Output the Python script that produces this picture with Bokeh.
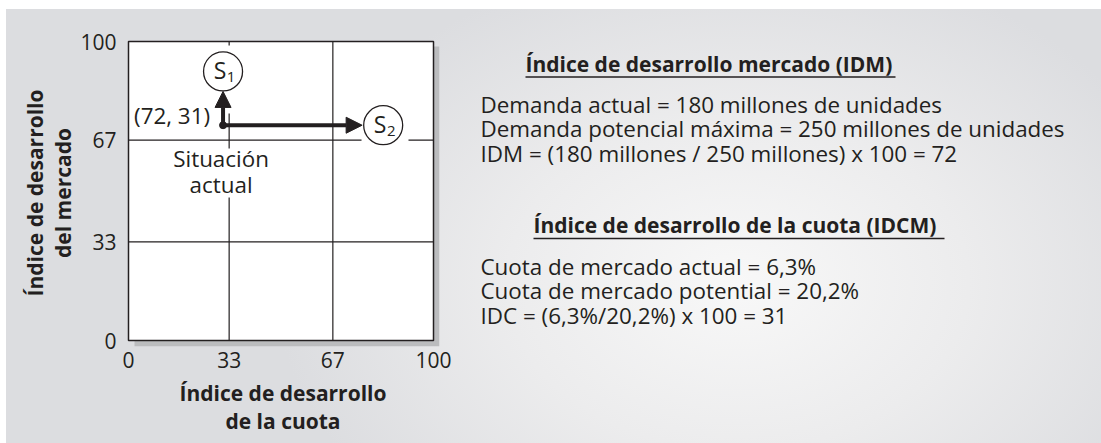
from bokeh.plotting import figure
from bokeh.models import Range1d, FixedTicker, Arrow, NormalHead
from bokeh.layouts import row
from bokeh.embed import file_html
from bokeh.resources import INLINE
from bokeh.core.properties import value

# ---------------- data ----------------
tick_values = [0, 33, 67, 100]
grid_values = [33, 67]
idc_actual = 31          # x: índice de desarrollo de la cuota
idm_actual = 72          # y: índice de desarrollo del mercado
point_label = "(72, 31)"
situacion_lines = ["Situación", "actual"]
s_labels = ["S", "S"]
s_subscripts = ["1", "2"]
s_x = [31, 83.5]
s_y = [90, 72]
s1_arrow_tip_y = 83.3
s2_arrow_tip_x = 76.6
x_axis_label = "Índice de desarrollo\nde la cuota"
y_axis_label = "Índice de desarrollo\ndel mercado"

idm_title = "Índice de desarrollo mercado (IDM)"
idm_lines = ["Demanda actual = 180 millones de unidades",
             "Demanda potencial máxima = 250 millones de unidades",
             "IDM = (180 millones / 250 millones) x 100 = 72"]
idc_title = "Índice de desarrollo de la cuota (IDCM)"
idc_lines = ["Cuota de mercado actual = 6,3%",
             "Cuota de mercado potential = 20,2%",
             "IDC = (6,3%/20,2%) x 100 = 31"]

# ---------------- style ----------------
FONT = "Open Sans"
INK = "#231f20"
BODY = "22.4px"
px_x = 100 / 305.0
px_y = 100 / 299.0

# left figure: frame spans page x 126..439, y 39..346
p = figure(width=468, height=443,
           x_range=Range1d(-2 * px_x, 100 + 6 * px_x),
           y_range=Range1d(-6 * px_y, 100 + 2 * px_y),
           output_backend="svg", toolbar_location=None,
           min_border_left=126, min_border_right=29,
           min_border_top=39, min_border_bottom=97)
p.border_fill_alpha = 0
p.background_fill_alpha = 0
p.outline_line_color = None
p.grid.visible = False

for ax in (p.xaxis[0], p.yaxis[0]):
    ax.ticker = FixedTicker(ticks=tick_values)
    ax.axis_line_color = None
    ax.major_tick_line_color = None
    ax.minor_tick_line_color = None
    ax.major_tick_out = 0
    ax.major_tick_in = 0
    ax.major_label_text_font = FONT
    ax.major_label_text_font_size = "21px"
    ax.major_label_text_color = INK
    ax.axis_label_text_font = FONT
    ax.axis_label_text_font_size = "21px"
    ax.axis_label_text_font_style = "bold"
    ax.axis_label_text_color = INK
    ax.axis_label_text_line_height = 1.0
p.xaxis.axis_label = x_axis_label
p.yaxis.axis_label = y_axis_label
p.xaxis.major_label_standoff = 5
p.yaxis.major_label_standoff = 10
p.xaxis.axis_label_standoff = 8
p.yaxis.axis_label_standoff = 0

lo, hi = tick_values[0], tick_values[-1]
# shadow + white box
p.quad(left=[lo + 6 * px_x], right=[hi + 6 * px_x], bottom=[lo - 6 * px_y], top=[hi - 5 * px_y],
       fill_color="#bbbcbe", line_color=None)
p.quad(left=[lo], right=[hi], bottom=[lo], top=[hi],
       fill_color="white", line_color=INK, line_width=1.5)
# grid lines
p.segment(x0=grid_values, x1=grid_values, y0=[lo] * 2, y1=[hi] * 2, line_color=INK, line_width=1.2)
p.segment(x0=[lo] * 2, x1=[hi] * 2, y0=grid_values, y1=grid_values, line_color=INK, line_width=1.2)
# white label backgrounds (S2 gap, S1 area, "Situación actual" area)
p.quad(left=[s2_arrow_tip_x - 0.2, s_x[0] - 7.5, idc_actual - 17],
       right=[s_x[1] + 8.3, s_x[0] + 7, idc_actual + 16],
       bottom=[grid_values[1] - 1.2, s_y[0] - 14.1, idm_actual - 24.2],
       top=[grid_values[1] + 1.2, s_y[0] + 8.7, idm_actual - 7.8],
       fill_color="white", line_color=None)

# arrows
p.add_layout(Arrow(x_start=idc_actual, y_start=idm_actual, x_end=idc_actual, y_end=s1_arrow_tip_y,
                   line_width=4, line_color=INK,
                   end=NormalHead(size=16, fill_color=INK, line_color=INK, line_width=1)))
p.add_layout(Arrow(x_start=idc_actual, y_start=idm_actual, x_end=s2_arrow_tip_x, y_end=idm_actual,
                   line_width=4, line_color=INK,
                   end=NormalHead(size=16, fill_color=INK, line_color=INK, line_width=1)))
p.scatter([idc_actual], [idm_actual], size=7, color=INK)

# circles S1, S2
p.scatter(s_x, s_y, size=39, marker="circle", fill_color="white", line_color=INK, line_width=1.3)
p.text(s_x, s_y, text=s_labels, text_align="center", text_baseline="middle",
       x_offset=-3, y_offset=-1, text_font=value(FONT), text_font_size="23px", text_color=INK)
p.text(s_x, s_y, text=s_subscripts, text_align="center", text_baseline="middle",
       x_offset=8, y_offset=6, text_font=value(FONT), text_font_size="15px", text_color=INK)

# point labels
p.text([idc_actual], [idm_actual], text=[point_label], text_align="right", text_baseline="alphabetic",
       x_offset=-13, y_offset=-9.5, text_font=value(FONT), text_font_size=BODY, text_color=INK)
p.text([idc_actual], [idm_actual], text=[situacion_lines[0]], text_align="center", text_baseline="alphabetic",
       x_offset=-2, y_offset=33.5, text_font=value(FONT), text_font_size=BODY, text_color=INK)
p.text([idc_actual], [idm_actual], text=[situacion_lines[1]], text_align="center", text_baseline="alphabetic",
       x_offset=-2, y_offset=59.5, text_font=value(FONT), text_font_size=BODY, text_color=INK)

# ---------------- right text panel ----------------
# its frame is aligned to the left frame (page y 39..346); coordinates = page pixels
p2 = figure(width=633, height=443, x_range=Range1d(468, 1101), y_range=Range1d(346, 39),
            output_backend="svg", toolbar_location=None, min_border=0)
p2.border_fill_alpha = 0
p2.background_fill_alpha = 0
p2.outline_line_color = None
p2.grid.visible = False
p2.axis.visible = False

title_x = [525, 533]
title_y = [63, 224]
underline_x1 = [895, 944]
underline_y = [76.5, 238]
p2.text(title_x, title_y, text=[idm_title, idc_title], text_baseline="alphabetic",
        text_font=value(FONT), text_font_size="21px", text_font_style="bold", text_color=INK)
p2.segment(x0=title_x, x1=underline_x1, y0=underline_y, y1=underline_y, line_color=INK, line_width=1.5)

body_x = 480
line_gap = 24.5
idm_y = [103.5 + i * line_gap for i in range(len(idm_lines))]
idc_y = [265.5 + i * line_gap for i in range(len(idc_lines))]
p2.text([body_x] * 3, idm_y, text=idm_lines, text_baseline="alphabetic",
        text_font=value(FONT), text_font_size=BODY, text_color=INK)
p2.text([body_x] * 3, idc_y, text=idc_lines, text_baseline="alphabetic",
        text_font=value(FONT), text_font_size=BODY, text_color=INK)

background = ("linear-gradient(#ffffff, #ffffff) 0 0 / 6px 100% no-repeat, "
              "linear-gradient(#ffffff, #ffffff) 0 0 / 100% 9px no-repeat, "
              "radial-gradient(ellipse 42% 75% at 67% 64%, #f8f8f8 0%, #ececed 50%, #dcdde0 100%)")
layout = row(p, p2, spacing=0, styles={"background": background})

open("out.html", "w").write(file_html(layout, INLINE))
